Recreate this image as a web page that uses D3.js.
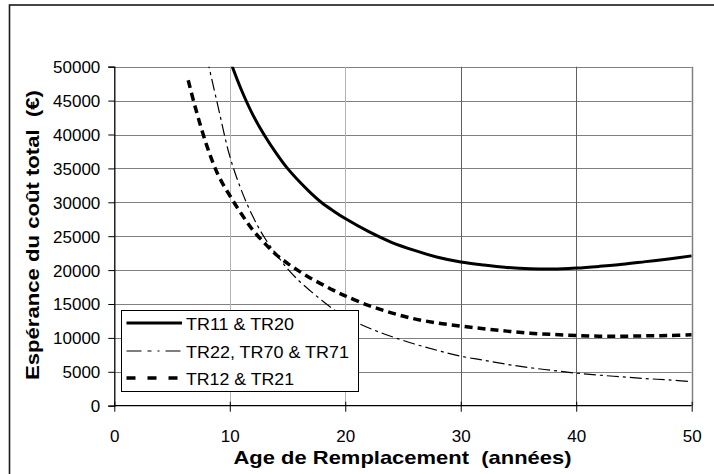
<!DOCTYPE html>
<html>
<head>
<meta charset="utf-8">
<script src="https://cdn.jsdelivr.net/npm/d3@7"></script>
<style>
  html, body { margin: 0; padding: 0; background: #fff; }
  svg { display: block; font-family: "Liberation Sans", Arial, sans-serif; }
  .title { white-space: pre; }
</style>
</head>
<body>
<svg id="chart" width="714" height="474"></svg>
<script>
// Expected total cost (€) as a function of replacement age (years)
const seriesNames = ["TR11 & TR20", "TR22, TR70 & TR71", "TR12 & TR21"];

const agesA = [10, 11, 12, 13, 14, 15, 16, 17, 18, 19, 20, 22, 24, 26, 28, 30, 32, 34, 36, 38, 40, 42, 44, 46, 48, 50];
const costA = [51000, 46600, 42900, 39900, 37300, 35000, 33100, 31400, 29900, 28700, 27600, 25700, 24100, 22900, 21900, 21200, 20750, 20400, 20200, 20150, 20300, 20550, 20850, 21250, 21650, 22100];

const agesB = [8, 9, 10, 11, 12, 13, 14, 15, 16, 17, 18, 19, 20, 22, 24, 26, 28, 30, 32, 34, 36, 38, 40, 42, 44, 46, 48, 50];
const costB = [51500, 44000, 36800, 31800, 27900, 24800, 22400, 20200, 18400, 16900, 15500, 14200, 13100, 11500, 10200, 9100, 8150, 7300, 6700, 6100, 5600, 5200, 4800, 4500, 4250, 4000, 3800, 3550];

const agesC = [6.4, 7, 8, 9, 10, 11, 12, 13, 14, 15, 16, 17, 18, 19, 20, 22, 24, 26, 28, 30, 32, 34, 36, 38, 40, 42, 44, 46, 48, 50];
const costC = [48000, 44100, 38400, 34000, 31000, 28300, 25900, 24000, 22300, 21000, 19850, 18800, 17900, 17000, 16200, 14800, 13700, 12800, 12200, 11750, 11350, 11000, 10700, 10500, 10350, 10250, 10250, 10300, 10350, 10450];

const xTicks = [0, 10, 20, 30, 40, 50];
const yTicks = [0, 5000, 10000, 15000, 20000, 25000, 30000, 35000, 40000, 45000, 50000];

const xTitle = "Age de Remplacement  (années)";
const yTitle = "Espérance du coût total  (€)";

const svg = d3.select("#chart");
const plotLeft = 114.3, plotRight = 691.7, plotTop = 66.7, plotBottom = 405.7;

const x = d3.scaleLinear().domain([0, 50]).range([plotLeft, plotRight]);
const y = d3.scaleLinear().domain([0, 50000]).range([plotBottom, plotTop]);

// outer chart frame
svg.append("rect")
  .attr("x", 9.5).attr("y", 5).attr("width", 740).attr("height", 500)
  .attr("fill", "none").attr("stroke", "#1a1a1a").attr("stroke-width", 1.6);

// horizontal gridlines
svg.append("g").selectAll("line").data(yTicks.filter(d => d > 0)).join("line")
  .attr("x1", plotLeft).attr("x2", plotRight)
  .attr("y1", d => Math.round(y(d)) + 0.5).attr("y2", d => Math.round(y(d)) + 0.5)
  .attr("stroke", "#808080").attr("stroke-width", 1);

// vertical gridlines
svg.append("g").selectAll("line").data(xTicks.filter(d => d > 0)).join("line")
  .attr("x1", d => Math.round(x(d)) + 0.5).attr("x2", d => Math.round(x(d)) + 0.5)
  .attr("y1", plotTop).attr("y2", plotBottom)
  .attr("stroke", d => (d === 10 || d === 20) ? "#b4b4b4" : (d === 50 ? "#808080" : "#606060"))
  .attr("stroke-width", d => d === 50 ? 1.5 : 1);

// y axis
const yAxis = d3.axisLeft(y).tickValues(yTicks).tickSize(6).tickPadding(8).tickFormat(d3.format("d"));
const gy = svg.append("g").attr("transform", `translate(${plotLeft},0)`).call(yAxis);
gy.select(".domain").attr("stroke", "#000").attr("stroke-width", 1.3);
gy.selectAll(".tick line").attr("stroke", "#000");
gy.selectAll(".tick text").attr("font-size", 17).attr("fill", "#000")
  .attr("font-family", "'Liberation Sans', Arial, sans-serif").attr("dy", "0.35em");

// x axis (ticks cross the axis line)
const gx = svg.append("g").attr("transform", `translate(0,${plotBottom})`)
  .call(d3.axisBottom(x).tickValues(xTicks).tickSize(6).tickPadding(18).tickFormat(d3.format("d")));
gx.select(".domain").attr("stroke", "#000").attr("stroke-width", 1.3).attr("d", `M${plotLeft},0H${plotRight}`);
gx.selectAll(".tick line").attr("stroke", "#000").attr("y1", -4).attr("y2", 6);
gx.selectAll(".tick text").attr("font-size", 17).attr("fill", "#000")
  .attr("font-family", "'Liberation Sans', Arial, sans-serif");

// clip curves to plot area
svg.append("clipPath").attr("id", "plotClip")
  .append("rect").attr("x", plotLeft).attr("y", plotTop)
  .attr("width", plotRight - plotLeft).attr("height", plotBottom - plotTop);

const line = d3.line().x(d => x(d[0])).y(d => y(d[1])).curve(d3.curveCatmullRom.alpha(0.5));

const styles = [
  { width: 3, dash: null },
  { width: 1.2, dash: "12,4,3,4" },
  { width: 3.5, dash: "8,5" }
];
const series = [
  d3.zip(agesA, costA),
  d3.zip(agesB, costB),
  d3.zip(agesC, costC)
];

const plot = svg.append("g").attr("clip-path", "url(#plotClip)");
plot.selectAll("path").data(series).join("path")
  .attr("d", line)
  .attr("fill", "none")
  .attr("stroke", "#000")
  .attr("stroke-width", (d, i) => styles[i].width)
  .attr("stroke-dasharray", (d, i) => styles[i].dash);

// legend
const lg = svg.append("g");
lg.append("rect").attr("x", 121.5).attr("y", 310.5).attr("width", 237).attr("height", 81)
  .attr("fill", "#fff").attr("stroke", "#000").attr("stroke-width", 1);
const rowY = [323, 351, 378];
const legendWidths = [108, 163, 108];
seriesNames.forEach((name, i) => {
  lg.append("line")
    .attr("x1", 126.5).attr("x2", 182).attr("y1", rowY[i]).attr("y2", rowY[i])
    .attr("stroke", "#000").attr("stroke-width", styles[i].width)
    .attr("stroke-dasharray", i === 1 ? "15,6,4,6,2,6" : (i === 2 ? "9,12" : null));
  lg.append("text")
    .attr("x", 186).attr("y", rowY[i] + 6.5)
    .attr("font-size", 16.5).attr("fill", "#000")
    .attr("textLength", legendWidths[i]).attr("lengthAdjust", "spacingAndGlyphs")
    .text(name);
});

// axis titles
svg.append("text").attr("class", "title")
  .attr("x", 402.5).attr("y", 464)
  .attr("text-anchor", "middle").attr("font-size", 18.5).attr("font-weight", "bold")
  .attr("textLength", 338).attr("lengthAdjust", "spacingAndGlyphs")
  .text(xTitle);

svg.append("text").attr("class", "title")
  .attr("transform", "translate(38.5,235) rotate(-90)")
  .attr("text-anchor", "middle").attr("font-size", 18.5).attr("font-weight", "bold")
  .attr("textLength", 290).attr("lengthAdjust", "spacingAndGlyphs")
  .text(yTitle);
</script>
</body>
</html>
